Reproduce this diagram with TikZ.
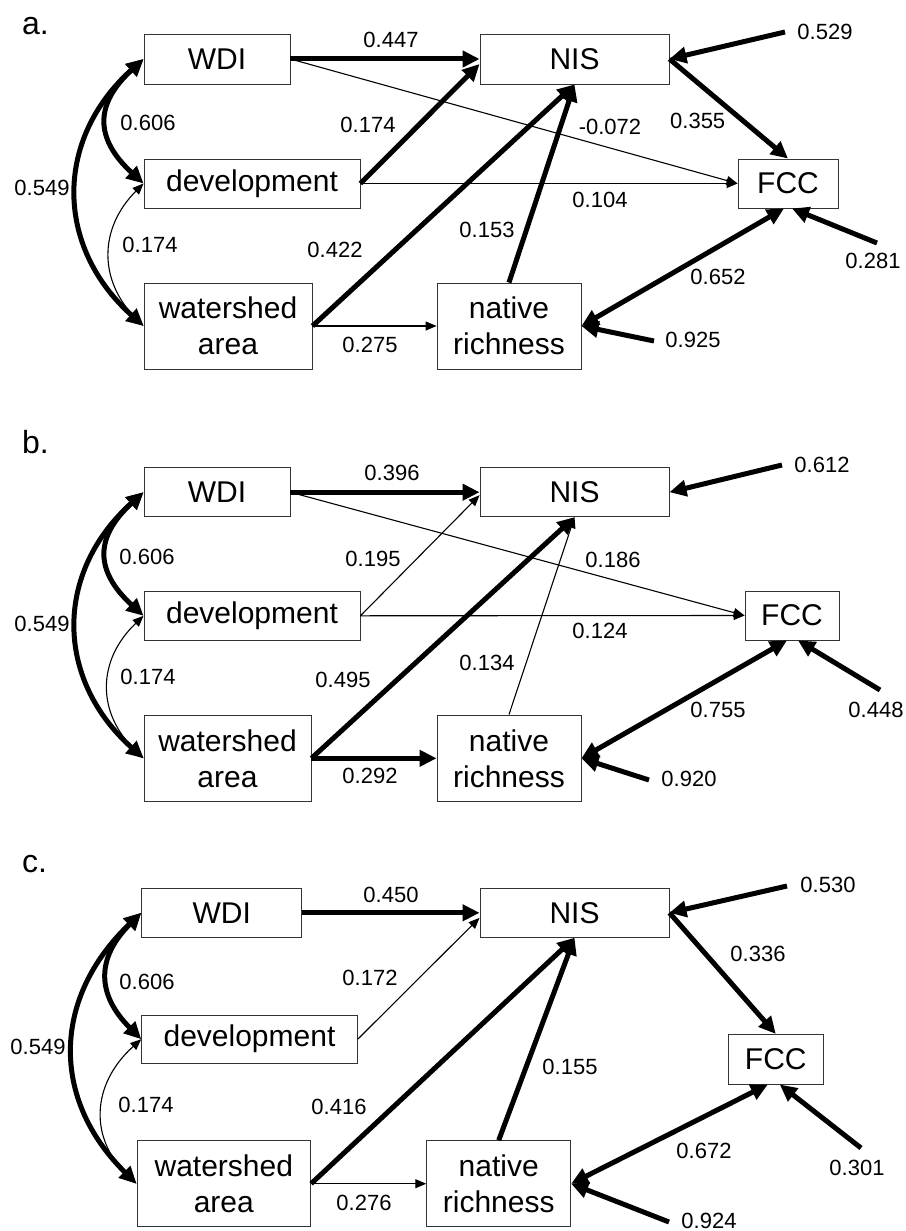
\documentclass[tikz,border=0pt]{standalone}
\usepackage{fontspec}
\setmainfont{Liberation Sans}
\usetikzlibrary{arrows.meta,calc}
\newcommand\bxfont{\fontsize{30}{36}\selectfont}
\newcommand\lbfont{\fontsize{22}{26}\selectfont}
\newcommand\pnfont{\fontsize{32}{38}\selectfont}
\tikzset{
  box/.style={draw=black!80, line width=0.9pt, inner sep=0pt, font=\bxfont, align=center},
  lab/.style={inner sep=0pt, font=\lbfont},
  pan/.style={inner sep=0pt, font=\pnfont, anchor=base west},
  thk/.style={line width=5pt, -{Triangle[length=17pt,width=16pt]}},
  thkboth/.style={line width=5pt, {Triangle[length=17pt,width=16pt]}-{Triangle[length=17pt,width=16pt]}},
  thn/.style={line width=1.1pt, -{Triangle[length=11pt,width=9pt]}},
  thnboth/.style={line width=1.1pt, {Triangle[length=11pt,width=9pt]}-{Triangle[length=11pt,width=9pt]}}
}
\begin{document}
\begin{tikzpicture}[x=1pt,y=-1pt]
\useasboundingbox (0,0) rectangle (905,1231);
% ================= panel a =================
\node[pan] (aP) at (22,35) {a.};
\node[box, minimum width=146pt, minimum height=50pt] (aWDI) at (217,59) {WDI};
\node[box, minimum width=216pt, minimum height=49pt] (aDEV) at (252,183.5) {development};
\node[box, minimum width=168pt, minimum height=86pt] (aWS) at (228,326) {watershed\\area};
\node[box, minimum width=189pt, minimum height=50pt] (aNIS) at (574.5,59) {NIS};
\node[box, minimum width=100pt, minimum height=49pt] (aFCC) at (788,183.5) {FCC};
\node[box, minimum width=144pt, minimum height=86pt] (aNAT) at (509,326) {native\\richness};
\coordinate (aE1) at (785,32);
\coordinate (aE2) at (877,243);
\coordinate (aE3) at (654,341);
\draw[thk] (aWDI.east) -- (aNIS.west);
\draw[thn] (aWDI.east) -- (aFCC.west);
\draw[thk] (aDEV.east) -- ($(aNIS.west)+(0,5)$);
\draw[thn] (aDEV.east) -- (aFCC.west);
\draw[thk] (aWS.east) -- (aNIS.south);
\draw[thk] (aNAT.north) -- (aNIS.south);
\draw[thn] (aWS.east) -- (aNAT.west);
\draw[thk] (aNIS.east) -- (aFCC.north);
\draw[thkboth] (aNAT.east) -- ($(aFCC.south)+(-4,0)$);
\draw[thk] (aE1) -- (aNIS.east);
\draw[thk] (aE2) -- ($(aFCC.south)+(4,0)$);
\draw[thk] (aE3) -- (aNAT.east);
\draw[thkboth] (aWDI.west) .. controls +(-49,45) and +(-49,-45) .. (aDEV.west);
\draw[thkboth] (aWDI.west) .. controls +(-89,80) and +(-89,-80) .. (aWS.west);
\draw[thnboth] (aDEV.west) .. controls +(-45,45) and +(-45,-45) .. (aWS.west);
\node[lab] at (391,39.5) {0.447};
\node[lab] at (148,123) {0.606};
\node[lab] at (368,124.5) {0.174};
\node[lab] at (42,188) {0.549};
\node[lab] at (150,244.5) {0.174};
\node[lab] at (335,249.5) {0.422};
\node[lab] at (370,345) {0.275};
\node[lab] at (825,31.7) {0.529};
\node[lab] at (610,126.7) {-0.072};
\node[lab] at (697.7,121) {0.355};
\node[lab] at (600,199.5) {0.104};
\node[lab] at (487,229.5) {0.153};
\node[lab] at (718,277) {0.652};
\node[lab] at (873,261) {0.281};
\node[lab] at (693,340) {0.925};
% ================= panel b =================
\node[pan] (bP) at (22,453) {b.};
\node[box, minimum width=146pt, minimum height=49pt] (bWDI) at (217,492.2) {WDI};
\node[box, minimum width=216pt, minimum height=48.3pt] (bDEV) at (252,615.8) {development};
\node[box, minimum width=167pt, minimum height=86.7pt] (bWS) at (227.5,758.3) {watershed\\area};
\node[box, minimum width=189pt, minimum height=49pt] (bNIS) at (574.5,492.2) {NIS};
\node[box, minimum width=94pt, minimum height=49pt] (bFCC) at (792,615.5) {FCC};
\node[box, minimum width=144pt, minimum height=86.7pt] (bNAT) at (509,758.3) {native\\richness};
\coordinate (bE1) at (782,465);
\coordinate (bE2) at (880,690);
\coordinate (bE3) at (649,780);
\draw[thk] (bWDI.east) -- (bNIS.west);
\draw[thn] (bWDI.east) -- (bFCC.west);
\draw[thn] (bDEV.east) -- ($(bNIS.west)+(0,3)$);
\draw[thn] (bDEV.east) -- (bFCC.west);
\draw[thk] (bWS.east) -- (bNIS.south);
\draw[thn] (bNAT.north) -- (bNIS.south);
\draw[thk] (bWS.east) -- (bNAT.west);
\draw[thkboth] (bNAT.east) -- ($(bFCC.south)+(-5,0)$);
\draw[thk] (bE1) -- (bNIS.east);
\draw[thk] (bE2) -- ($(bFCC.south)+(6,0)$);
\draw[thk] (bE3) -- (bNAT.east);
\draw[thkboth] (bWDI.west) .. controls +(-49,45) and +(-49,-45) .. (bDEV.west);
\draw[thkboth] (bWDI.west) .. controls +(-89,80) and +(-89,-80) .. (bWS.west);
\draw[thnboth] (bDEV.west) .. controls +(-47,45) and +(-47,-45) .. (bWS.west);
\node[lab] at (392,473) {0.396};
\node[lab] at (147,557) {0.606};
\node[lab] at (373,559) {0.195};
\node[lab] at (42,624) {0.549};
\node[lab] at (148,677) {0.174};
\node[lab] at (343,679.5) {0.495};
\node[lab] at (370,776) {0.292};
\node[lab] at (822,464.5) {0.612};
\node[lab] at (613,559.5) {0.186};
\node[lab] at (600,631) {0.124};
\node[lab] at (487,663) {0.134};
\node[lab] at (718,709.5) {0.755};
\node[lab] at (876,709.5) {0.448};
\node[lab] at (689,778.7) {0.920};
% ================= panel c =================
\node[pan] (cP) at (22,872) {c.};
\node[box, minimum width=160pt, minimum height=49pt] (cWDI) at (221.7,912.8) {WDI};
\node[box, minimum width=215.6pt, minimum height=48.3pt] (cDEV) at (249.5,1039.2) {development};
\node[box, minimum width=173.7pt, minimum height=86pt] (cWS) at (223.8,1183.7) {watershed\\area};
\node[box, minimum width=189pt, minimum height=49pt] (cNIS) at (574.5,912.8) {NIS};
\node[box, minimum width=95pt, minimum height=49.7pt] (cFCC) at (775.8,1059.2) {FCC};
\node[box, minimum width=144pt, minimum height=86pt] (cNAT) at (498.7,1183.7) {native\\richness};
\coordinate (cE1) at (787,886);
\coordinate (cE2) at (861,1148);
\coordinate (cE3) at (669,1222);
\draw[thk] (cWDI.east) -- (cNIS.west);
\draw[thn] (cDEV.east) -- ($(cNIS.west)+(0,5)$);
\draw[thk] (cWS.east) -- (cNIS.south);
\draw[thk] (cNAT.north) -- (cNIS.south);
\draw[thn] (cWS.east) -- (cNAT.west);
\draw[thk] (cNIS.east) -- (cFCC.north);
\draw[thkboth] (cNAT.east) -- ($(cFCC.south)+(-8,0)$);
\draw[thk] (cE1) -- (cNIS.east);
\draw[thk] (cE2) -- ($(cFCC.south)+(4,0)$);
\draw[thk] (cE3) -- (cNAT.east);
\draw[thkboth] (cWDI.west) .. controls +(-45,45) and +(-45,-45) .. (cDEV.west);
\draw[thkboth] (cWDI.west) .. controls +(-89,85) and +(-86,-85) .. (cWS.west);
\draw[thnboth] (cDEV.west) .. controls +(-50,45) and +(-48,-45) .. (cWS.west);
\node[lab] at (391,895) {0.450};
\node[lab] at (147,982) {0.606};
\node[lab] at (370,977.8) {0.172};
\node[lab] at (38,1047) {0.549};
\node[lab] at (146,1104.7) {0.174};
\node[lab] at (339,1107) {0.416};
\node[lab] at (364,1203) {0.276};
\node[lab] at (828,885) {0.530};
\node[lab] at (758,954) {0.336};
\node[lab] at (570,1067) {0.155};
\node[lab] at (704,1151) {0.672};
\node[lab] at (857,1168) {0.301};
\node[lab] at (709,1220.5) {0.924};
\end{tikzpicture}
\end{document}
